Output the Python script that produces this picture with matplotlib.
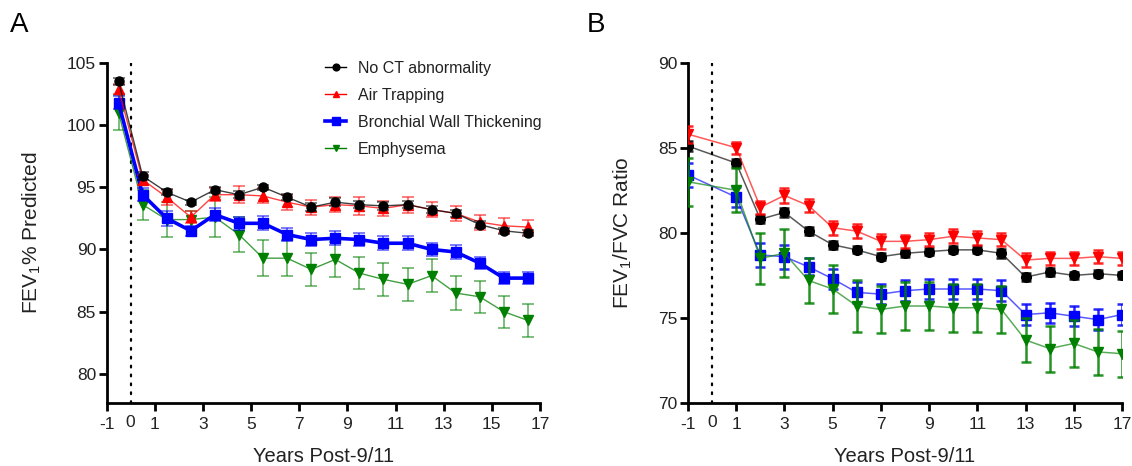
import matplotlib
matplotlib.use("Agg")
import matplotlib.pyplot as plt

plt.rcParams['font.family'] = ['Liberation Sans', 'DejaVu Sans']
plt.rcParams['mathtext.fontset'] = 'custom'
plt.rcParams['mathtext.rm'] = 'Liberation Sans'
plt.rcParams['mathtext.it'] = 'Liberation Sans:italic'

# ---------------- data ----------------
series_names = ["No CT abnormality", "Air Trapping", "Bronchial Wall Thickening", "Emphysema"]

years_a = [-0.5, 0.5, 1.5, 2.5, 3.5, 4.5, 5.5, 6.5, 7.5, 8.5, 9.5, 10.5, 11.5, 12.5, 13.5, 14.5, 15.5, 16.5]
a_none = [103.5, 95.9, 94.6, 93.8, 94.8, 94.4, 95.0, 94.2, 93.4, 93.8, 93.6, 93.5, 93.6, 93.2, 92.9, 92.0, 91.5, 91.3]
a_none_err = [0.3, 0.3, 0.25, 0.2, 0.25, 0.3, 0.2, 0.25, 0.3, 0.3, 0.3, 0.3, 0.3, 0.3, 0.3, 0.3, 0.25, 0.25]
a_air = [102.9, 95.6, 94.2, 92.6, 94.4, 94.4, 94.3, 93.8, 93.4, 93.6, 93.5, 93.3, 93.6, 93.2, 92.9, 92.2, 91.9, 91.8]
a_air_err = [0.4, 0.4, 0.6, 0.5, 0.5, 0.7, 0.6, 0.6, 0.6, 0.6, 0.7, 0.6, 0.65, 0.6, 0.6, 0.6, 0.6, 0.6]
a_bwt = [101.8, 94.4, 92.5, 91.5, 92.8, 92.1, 92.1, 91.2, 90.8, 90.9, 90.8, 90.5, 90.5, 90.0, 89.8, 88.9, 87.7, 87.7]
a_bwt_err = [0.5, 0.5, 0.6, 0.4, 0.5, 0.5, 0.55, 0.5, 0.55, 0.55, 0.55, 0.55, 0.55, 0.55, 0.55, 0.5, 0.5, 0.5]
a_emph = [101.0, 93.6, 92.4, 92.4, 92.6, 91.2, 89.3, 89.3, 88.4, 89.2, 88.1, 87.6, 87.2, 87.9, 86.5, 86.2, 85.0, 84.3]
a_emph_err = [1.4, 1.2, 1.4, 0.7, 1.6, 1.4, 1.45, 1.45, 1.35, 1.4, 1.3, 1.3, 1.35, 1.3, 1.35, 1.3, 1.3, 1.3]

years_b = [-1, 1, 2, 3, 4, 5, 6, 7, 8, 9, 10, 11, 12, 13, 14, 15, 16, 17]
b_none = [85.1, 84.1, 80.8, 81.2, 80.1, 79.3, 79.0, 78.6, 78.8, 78.9, 79.0, 79.0, 78.8, 77.4, 77.7, 77.5, 77.6, 77.5]
b_none_err = [0.3, 0.25, 0.25, 0.25, 0.25, 0.25, 0.2, 0.2, 0.2, 0.2, 0.2, 0.2, 0.25, 0.25, 0.25, 0.2, 0.2, 0.2]
b_air = [85.8, 85.0, 81.5, 82.2, 81.6, 80.3, 80.1, 79.5, 79.5, 79.6, 79.8, 79.7, 79.6, 78.4, 78.5, 78.5, 78.6, 78.5]
b_air_err = [0.5, 0.35, 0.4, 0.45, 0.4, 0.4, 0.4, 0.45, 0.4, 0.4, 0.4, 0.4, 0.4, 0.4, 0.4, 0.4, 0.4, 0.4]
b_bwt = [83.4, 82.1, 78.7, 78.6, 78.0, 77.3, 76.5, 76.4, 76.6, 76.7, 76.7, 76.7, 76.6, 75.2, 75.3, 75.1, 74.9, 75.2]
b_bwt_err = [0.7, 0.6, 0.7, 0.7, 0.5, 0.6, 0.6, 0.6, 0.6, 0.6, 0.6, 0.6, 0.6, 0.6, 0.6, 0.6, 0.6, 0.6]
b_emph = [83.0, 82.5, 78.5, 78.8, 77.2, 76.7, 75.7, 75.5, 75.7, 75.7, 75.6, 75.6, 75.5, 73.7, 73.2, 73.5, 73.0, 72.9]
b_emph_err = [1.4, 1.3, 1.5, 1.4, 1.3, 1.4, 1.5, 1.4, 1.4, 1.4, 1.4, 1.4, 1.4, 1.3, 1.35, 1.4, 1.35, 1.35]

xtick_vals = [-1, 1, 3, 5, 7, 9, 11, 13, 15, 17]
colors = ["black", "#ff0000", "#0000ff", "#008000"]

# ---------------- figure ----------------
W, H = 1132, 466
fig = plt.figure(figsize=(W / 100, H / 100), dpi=100)
axA = fig.add_axes([106.5 / W, 1 - 403 / H, 433.5 / W, 340.3 / H])
axB = fig.add_axes([688 / W, 1 - 403 / H, 434 / W, 340.3 / H])


def style_axis(ax):
    for s in ["top", "right"]:
        ax.spines[s].set_visible(False)
    for s in ["left", "bottom"]:
        ax.spines[s].set_linewidth(2.0)
        ax.spines[s].set_color("black")
    ax.tick_params(axis="both", which="major", direction="out", length=6, width=2.0,
                   labelsize=12.5, colors="black", labelcolor="#222222")
    ax.tick_params(axis="y", pad=1.5)
    ax.tick_params(axis="x", pad=4)
    ax.set_xticks(xtick_vals)
    ax.set_xticklabels([str(v) for v in xtick_vals])
    ax.set_xlim(-1, 17)
    ax.axvline(0, color="black", lw=1.6, linestyle=(0, (0.8, 3.2)), dash_capstyle="round", zorder=1)
    ax.text(0, -0.036, "0", transform=ax.get_xaxis_transform(), ha="center", va="top",
            fontsize=12.5, color="#222222")
    ax.set_xlabel("Years Post-9/11", fontsize=14.5, color="#222222", labelpad=11)


# Panel A
styleA = [
    dict(marker="o", lw=1.0, ms=6.5, alpha_line=0.75),
    dict(marker="^", lw=1.0, ms=6.5, alpha_line=0.75),
    dict(marker="s", lw=2.6, ms=7.5, alpha_line=1.0),
    dict(marker="v", lw=1.0, ms=6.5, alpha_line=0.75),
]
dataA = [(a_none, a_none_err), (a_air, a_air_err), (a_bwt, a_bwt_err), (a_emph, a_emph_err)]
zA = [8, 7, 6, 5]
handles = []
for (vals, errs), c, st, name, z in zip(dataA, colors, styleA, series_names, zA):
    axA.errorbar(years_a, vals, yerr=errs, fmt="none", ecolor=c, elinewidth=1.3,
                 capsize=4, capthick=1.3, alpha=0.55, zorder=z)
    axA.plot(years_a, vals, color=c, lw=st["lw"], alpha=st["alpha_line"], zorder=z)
    axA.plot(years_a, vals, linestyle="none", marker=st["marker"], ms=st["ms"],
             color=c, mec=c, zorder=z + 0.5)
    h, = axA.plot([], [], color=c, lw=st["lw"], marker=st["marker"], ms=st["ms"] * 0.75, label=name)
    handles.append(h)

style_axis(axA)
axA.set_ylim(77.67, 105)
axA.set_yticks([80, 85, 90, 95, 100, 105])
axA.set_ylabel("FEV$_1$% Predicted", fontsize=15, color="#222222")
axA.yaxis.set_label_coords(-0.146, 0.5)
leg = axA.legend(handles=handles, loc="upper left", bbox_to_anchor=(0.49, 1.025), frameon=False,
                 fontsize=11.5, handlelength=1.3, handletextpad=0.75, labelspacing=0.75,
                 borderaxespad=0.0)
for t in leg.get_texts():
    t.set_color("#222222")

# Panel B
styleB = [
    dict(marker="o", ms=7.0),
    dict(marker="v", ms=7.0),
    dict(marker="s", ms=7.0),
    dict(marker="v", ms=7.0),
]
dataB = [(b_none, b_none_err), (b_air, b_air_err), (b_bwt, b_bwt_err), (b_emph, b_emph_err)]
zB = [5, 6, 7, 8]
for (vals, errs), c, st, z in zip(dataB, colors, styleB, zB):
    axB.errorbar(years_b, vals, yerr=errs, fmt="none", ecolor=c, elinewidth=1.8,
                 capsize=3.5, capthick=1.8, alpha=0.85, zorder=z)
    axB.plot(years_b, vals, color=c, lw=1.1, alpha=0.65, zorder=z)
    axB.plot(years_b, vals, linestyle="none", marker=st["marker"], ms=st["ms"],
             color=c, mec=c, zorder=z + 0.5)

style_axis(axB)
axB.set_ylim(70, 90)
axB.set_yticks([70, 75, 80, 85, 90])
axB.set_ylabel("FEV$_1$/FVC Ratio", fontsize=15, color="#222222")
axB.yaxis.set_label_coords(-0.124, 0.5)

# panel letters
fig.text(10 / W, 1 - 25 / H, "A", fontsize=20, ha="left", va="center", color="black")
fig.text(587 / W, 1 - 25 / H, "B", fontsize=20, ha="left", va="center", color="black")

fig.savefig("out.png", dpi=100)
